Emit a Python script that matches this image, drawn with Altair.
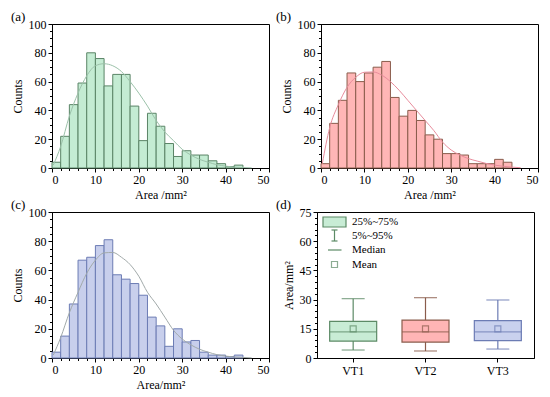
import altair as alt
import pandas as pd

# ---------------- data ----------------
bin_starts = [0, 2, 4, 6, 8, 10, 12, 14, 16, 18, 20, 22, 24, 26, 28, 30, 32, 34, 36, 38, 40, 42]
counts_a = [4, 22, 44, 59, 80, 76, 57, 65, 65, 43, 19, 38, 29, 17, 8, 12, 9, 9, 5, 3, 1, 2]
counts_b = [3, 31, 47, 66, 60, 66, 70, 74, 49, 36, 40, 33, 23, 20, 10, 10, 9, 3, 3, 3, 6, 4]
counts_c = [4, 15, 37, 67, 69, 77, 81, 57, 54, 51, 43, 28, 22, 8, 20, 11, 12, 4, 2, 2, 1, 2]

curve_x = [0.3, 2, 4, 6, 8, 10, 12, 14, 16, 18, 20, 22, 24, 26, 28, 30, 32, 34, 36, 38, 40, 42, 44, 46]
curve_a = [2, 15, 36, 52, 64, 71, 72.4, 71, 67, 60, 52, 43, 33, 25, 19, 13, 9, 6, 4, 2.3, 1.3, 0.6, 0.3, 0.1]
curve_b = [3, 28, 44, 56, 63, 66.5, 66.7, 64.5, 60, 54, 47, 40, 33, 26, 18, 12.5, 9, 6.5, 4.8, 3.2, 2, 1.2, 0.6, 0.2]
curve_c = [2, 14, 31, 45, 58, 67, 72, 72.3, 69, 64, 56, 45, 37, 28, 19, 13, 9, 6, 4, 2.3, 1.3, 0.7, 0.4, 0.1]

groups = ["VT1", "VT2", "VT3"]
p5 = [4.1, 3.6, 4.6]
q1 = [8.7, 8.2, 8.9]
median = [13.4, 13.4, 13.4]
q3 = [18.8, 19.5, 19.2]
p95 = [30.5, 31.0, 29.8]
mean = [15.0, 15.0, 15.0]

legend_labels = ["25%~75%", "5%~95%", "Median", "Mean"]

x_major = [0, 10, 20, 30, 40, 50]
x_minor = list(range(0, 51, 2))
y_major = [0, 20, 40, 60, 80, 100]
y_minor = list(range(0, 101, 5))
d_major = [0, 15, 30, 45, 60, 75]
d_minor = list(range(0, 76, 3))

FONT = "Liberation Serif"
W = 217

def hist_panel(counts, curve, fill, stroke, curve_color, tag, xtitle, H, tag_dx):
    df = pd.DataFrame({"start": bin_starts,
                       "end": [s + 2 for s in bin_starts],
                       "count": counts})
    cdf = pd.DataFrame({"x": curve_x, "y": curve})
    xs = alt.Scale(domain=[0, 50], nice=False, zero=False)
    ys = alt.Scale(domain=[0, 100], nice=False)
    bars = alt.Chart(df).mark_rect(fill=fill, stroke=stroke, strokeWidth=1).encode(
        x=alt.X("start:Q", scale=xs,
                axis=alt.Axis(values=x_major, title=xtitle, orient="bottom", format="d")),
        x2="end:Q",
        y=alt.Y("count:Q", scale=ys,
                axis=alt.Axis(values=y_major, title="Counts", orient="left", format="d")),
        y2=alt.datum(0),
    )
    line = alt.Chart(cdf).mark_line(color=curve_color, strokeWidth=1,
                                    interpolate="monotone").encode(
        x=alt.X("x:Q", scale=xs,
                axis=alt.Axis(values=x_minor, labels=False, title=None, domain=False,
                              orient="bottom", tickSize=2.5, grid=False)),
        y=alt.Y("y:Q", scale=ys,
                axis=alt.Axis(values=y_minor, labels=False, title=None, domain=False,
                              orient="left", tickSize=2.5, grid=False)),
    )
    label = alt.Chart(pd.DataFrame({"t": [tag]})).mark_text(
        font=FONT, fontSize=13, align="left", baseline="middle", color="black"
    ).encode(text="t:N", x=alt.value(tag_dx), y=alt.value(-7))
    return alt.layer(bars, line, label).resolve_axis(x="independent", y="independent").properties(
        width=W, height=H)


pa = hist_panel(counts_a, curve_a, "#c4ecd3", "#5a8466", "#9cc2aa", "(a)", "Area /mm²", 144, -41)
pb = hist_panel(counts_b, curve_b, "#ffb6b6", "#8a5c4c", "#e88c9c", "(b)", "Area /mm²", 144, -45)
pc = hist_panel(counts_c, curve_c, "#c8cfec", "#6c7cb4", "#a2aaaa", "(c)", "Area/mm²", 146, -41)

# ---------------- box panel ----------------
bdf = pd.DataFrame({"g": groups, "p5": p5, "q1": q1, "med": median,
                    "q3": q3, "p95": p95, "mean": mean})
fills = ["#c8ecd5", "#ffb5b5", "#c9d1ee"]
strokes = ["#5c8a66", "#8a5c4c", "#6c7cb4"]
bx = alt.Scale(domain=groups, paddingInner=0.3, paddingOuter=0.15)
by = alt.Scale(domain=[0, 75], nice=False)
strokeScale = alt.Scale(domain=groups, range=strokes)
fillScale = alt.Scale(domain=groups, range=fills)

base = alt.Chart(bdf)
whisk = base.mark_rule(strokeWidth=1.2).encode(
    x=alt.X("g:N", scale=bx, axis=alt.Axis(title=None, labelAngle=0, orient="bottom",
                                           tickSize=4, labelFontSize=12, labelPadding=3)),
    y=alt.Y("p5:Q", scale=by, axis=alt.Axis(values=d_major, title="Area/mm²", orient="left")),
    y2="p95:Q",
    stroke=alt.Stroke("g:N", scale=strokeScale, legend=None),
)
caps_lo = base.mark_tick(size=23, thickness=1.3).encode(
    x=alt.X("g:N", scale=bx, axis=None),
    y=alt.Y("p5:Q", scale=by, axis=None),
    color=alt.Color("g:N", scale=strokeScale, legend=None),
)
caps_hi = base.mark_tick(size=23, thickness=1.3).encode(
    x=alt.X("g:N", scale=bx, axis=None),
    y=alt.Y("p95:Q", scale=by, axis=None),
    color=alt.Color("g:N", scale=strokeScale, legend=None),
)
box = base.mark_bar(size=47, strokeWidth=1.2).encode(
    x=alt.X("g:N", scale=bx, axis=None),
    y=alt.Y("q1:Q", scale=by, axis=alt.Axis(values=d_minor, labels=False, title=None,
                                             domain=False, orient="left", tickSize=2.5)),
    y2="q3:Q",
    fill=alt.Fill("g:N", scale=fillScale, legend=None),
    stroke=alt.Stroke("g:N", scale=strokeScale, legend=None),
)
med = base.mark_tick(size=47, thickness=1.3).encode(
    x=alt.X("g:N", scale=bx, axis=None),
    y=alt.Y("med:Q", scale=by, axis=None),
    color=alt.Color("g:N", scale=strokeScale, legend=None),
)
mn = base.mark_point(shape="square", size=36, filled=False, strokeWidth=1.2).encode(
    x=alt.X("g:N", scale=bx, axis=None),
    y=alt.Y("mean:Q", scale=by, axis=None),
    stroke=alt.Stroke("g:N", scale=strokeScale, legend=None),
)

# manual legend (decoration)
LG = "#5c8a66"
one = pd.DataFrame({"k": [0]})
leg_box = alt.Chart(one).mark_rect(fill="#c8ecd5", stroke=LG, strokeWidth=1.2).encode(
    x=alt.value(6), x2=alt.value(29), y=alt.value(5), y2=alt.value(15))
leg_w = alt.Chart(one).mark_rule(color=LG, strokeWidth=1.2).encode(
    x=alt.value(17.5), y=alt.value(18), y2=alt.value(29))
leg_c1 = alt.Chart(one).mark_rule(color=LG, strokeWidth=1.2).encode(
    x=alt.value(14.5), x2=alt.value(20.5), y=alt.value(18))
leg_c2 = alt.Chart(one).mark_rule(color=LG, strokeWidth=1.2).encode(
    x=alt.value(14.5), x2=alt.value(20.5), y=alt.value(29))
leg_med = alt.Chart(one).mark_rule(color=LG, strokeWidth=1.2).encode(
    x=alt.value(11), x2=alt.value(24.5), y=alt.value(38))
leg_mean = alt.Chart(one).mark_point(shape="square", size=36, filled=False,
                                     color=LG, strokeWidth=1.2).encode(
    x=alt.value(17.5), y=alt.value(52.5))
leg_y = [9.5, 24, 38, 53]
leg_txt = [
    alt.Chart(pd.DataFrame({"t": [lab]})).mark_text(
        font=FONT, fontSize=11, align="left", baseline="middle", color="black"
    ).encode(text="t:N", x=alt.value(35), y=alt.value(yy))
    for lab, yy in zip(legend_labels, leg_y)
]
tag_d = alt.Chart(pd.DataFrame({"t": ["(d)"]})).mark_text(
    font=FONT, fontSize=13, align="left", baseline="middle", color="black"
).encode(text="t:N", x=alt.value(-41), y=alt.value(-7))

pd_ = alt.layer(whisk, box, caps_lo, caps_hi, med, mn,
                leg_box, leg_w, leg_c1, leg_c2, leg_med, leg_mean, *leg_txt, tag_d
                ).resolve_axis(x="independent", y="independent").properties(width=W, height=146)

top = alt.hconcat(pa, pb, spacing=5)
bottom = alt.hconcat(pc, pd_, spacing=5)
chart = alt.vconcat(top, bottom, spacing=-3).properties(
    padding={"left": 2, "top": 2, "right": 0, "bottom": 0}
).configure_view(stroke="black", strokeWidth=1).configure_axis(
    labelFont=FONT, titleFont=FONT, labelFontSize=12, titleFontSize=12,
    titleFontWeight="normal", labelColor="black", titleColor="black",
    domainColor="black", tickColor="black", grid=False, tickSize=4,
    labelPadding=2, titlePadding=4,
)

chart.save("out.html", embed_options={"renderer": "svg", "actions": False})
